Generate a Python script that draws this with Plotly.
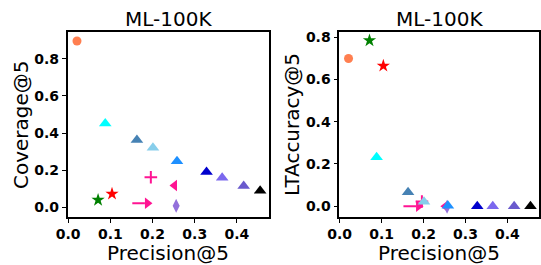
import plotly.graph_objects as go

# ---- data ----
precision = [0.021, 0.071, 0.104, 0.167, 0.188, 0.196, 0.252, 0.256,
             0.088, 0.163, 0.201, 0.258, 0.328, 0.365, 0.416, 0.455]
coverage = [0.895, 0.040, 0.073, 0.022, 0.022, 0.162, 0.118, 0.009,
            0.452, 0.362, 0.321, 0.248, 0.190, 0.160, 0.115, 0.090]
lt_accuracy = [0.700, 0.785, 0.665, 0.000, 0.000, 0.022, 0.000, -0.003,
               0.232, 0.066, 0.021, 0.002, 0.000, 0.000, 0.000, 0.000]
x_ticks = [0.0, 0.1, 0.2, 0.3, 0.4]
y_ticks = [0.0, 0.2, 0.4, 0.6, 0.8]
titles = ["ML-100K", "ML-100K"]
x_label = "Precision@5"
y_labels = ["Coverage@5", "LTAccuracy@5"]

# ---- styles ----
symbols = ["circle", "star", "star", "line-ew", "triangle-right", "cross-thin",
           "triangle-left", "diamond-tall", "triangle-up", "triangle-up",
           "triangle-up", "triangle-up", "triangle-up", "triangle-up",
           "triangle-up", "triangle-up"]
colors = ["#FF7F50", "#008000", "#FF0000", "#FF1493", "#FF1493", "#FF1493",
          "#FF1493", "#9370DB", "#00FFFF", "#4682B4", "#87CEEB", "#1E90FF",
          "#0000CD", "#7B68EE", "#6A5ACD", "#000000"]
sizes = [9, 10, 10, 9, 10, 9, 10, 10, 11, 11, 11, 11, 11, 11, 11, 11]
line_w = [0, 0, 0, 2, 0, 2, 0, 0, 0, 0, 0, 0, 0, 0, 0, 0]

W, H = 541, 265
fig = go.Figure()
for i, yv in enumerate([coverage, lt_accuracy]):
    fig.add_trace(go.Scatter(
        x=precision, y=yv, mode="markers",
        xaxis="x" if i == 0 else "x2", yaxis="y" if i == 0 else "y2",
        marker=dict(symbol=symbols, color=colors, size=sizes, opacity=1,
                    line=dict(color=colors, width=line_w)),
        showlegend=False, hoverinfo="x+y"))

tickfont = dict(family="DejaVu Sans", size=14, color="black", weight="bold")
labelfont = dict(family="DejaVu Sans", size=20, color="black")
common = dict(showline=True, mirror=True, linecolor="black", linewidth=1.6,
              ticks="outside", ticklen=4, tickwidth=1.3, tickcolor="black",
              showgrid=False, zeroline=False, tickfont=tickfont, tickformat=".1f",
              automargin=False)

dom_y = [(H - 216.7) / H, (H - 32.3) / H]
dom_x1 = [67.7 / W, 269.0 / W]
dom_x2 = [339.3 / W, 539.3 / W]

fig.update_layout(
    width=W, height=H, margin=dict(l=0, r=0, t=0, b=0),
    paper_bgcolor="white", plot_bgcolor="white",
    xaxis=dict(domain=dom_x1, range=[-0.001, 0.476], tickvals=x_ticks, anchor="y", **common),
    yaxis=dict(domain=dom_y, range=[-0.05, 0.942], tickvals=y_ticks, anchor="x", **common),
    xaxis2=dict(domain=dom_x2, range=[-0.001, 0.476], tickvals=x_ticks, anchor="y2", **common),
    yaxis2=dict(domain=dom_y, range=[-0.05, 0.824], tickvals=y_ticks, anchor="x2", **common),
)
for dom, t in zip([dom_x1, dom_x2], titles):
    cx = (dom[0] + dom[1]) / 2
    fig.add_annotation(text=t, x=cx, y=1 - 19.5 / H,
                       xref="paper", yref="paper", xanchor="center", yanchor="middle",
                       showarrow=False, font=labelfont)
    fig.add_annotation(text=x_label, x=cx, y=1 - 252.5 / H,
                       xref="paper", yref="paper", xanchor="center", yanchor="middle",
                       showarrow=False, font=labelfont)
for xc, t in zip([21 / W, 292 / W], y_labels):
    fig.add_annotation(text=t, x=xc, y=1 - 125 / H, textangle=-90,
                       xref="paper", yref="paper", xanchor="center", yanchor="middle",
                       showarrow=False, font=labelfont)

fig.write_html("out.html", config={"displayModeBar": False},
               post_script="document.body.style.margin='0';document.body.style.overflow='hidden';")
